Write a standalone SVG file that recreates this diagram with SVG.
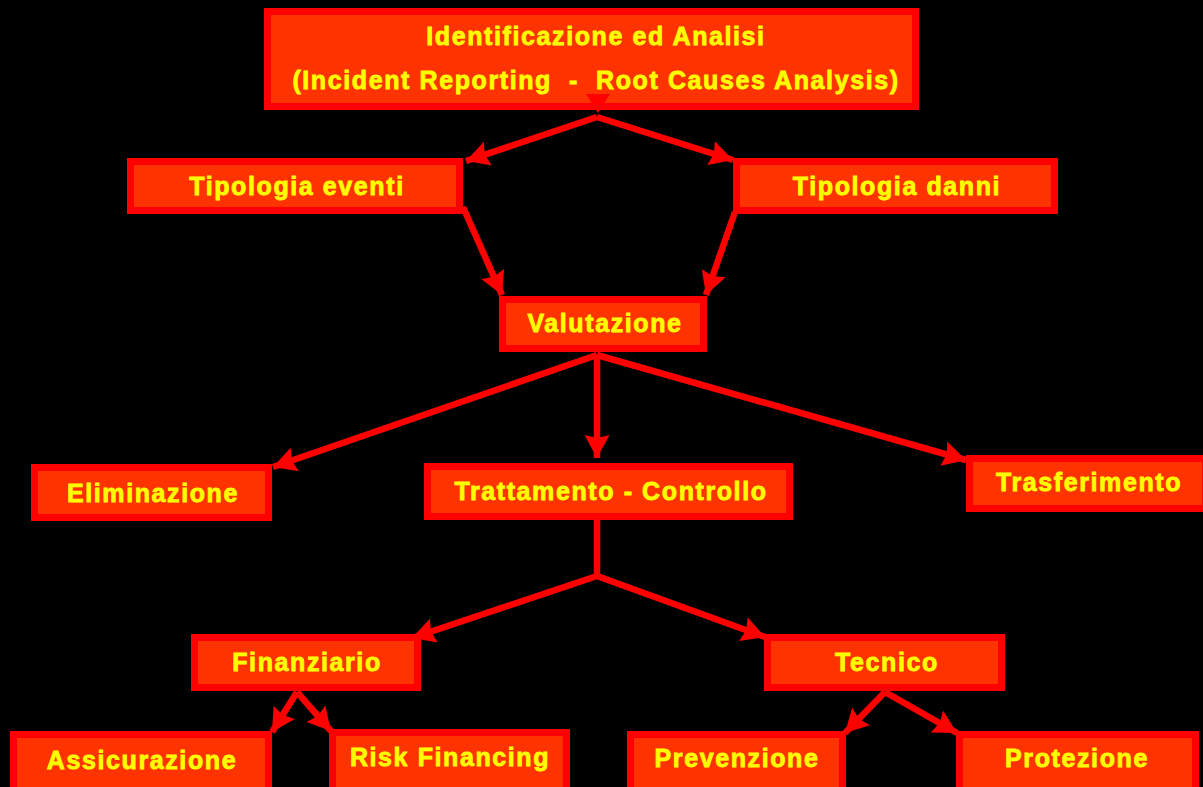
<svg xmlns="http://www.w3.org/2000/svg" width="1203" height="787" viewBox="0 0 1203 787">
<defs>
<marker id="ah" markerUnits="userSpaceOnUse" markerWidth="26" markerHeight="26" refX="23" refY="12.5" orient="auto">
<path d="M0,0 L23,12.5 L0,25 L3,12.5 Z" fill="#FF0000"/>
</marker>
<style>
.box{fill:#FF3300;stroke:#FF0000;stroke-width:7}
.t{font-family:"Liberation Sans",Arial,sans-serif;font-weight:bold;font-size:25px;letter-spacing:1.6px;fill:#FFFF00;stroke:#FFFF00;stroke-width:0.8px;text-anchor:middle;white-space:pre}
.c{stroke:#FF0000;stroke-width:6.5;fill:none}
.a{marker-end:url(#ah)}
</style>
</defs>
<rect width="1203" height="787" fill="#000"/>
<g id="n-identificazione"><rect class="box" x="267.5" y="11.5" width="648" height="95"/><text class="t" x="596" y="45">Identificazione ed Analisi</text><text class="t" x="596" y="89" xml:space="preserve">(Incident Reporting  -  Root Causes Analysis)</text></g>
<g id="n-tipologia-eventi"><rect class="box" x="130.5" y="161.5" width="329" height="49"/><text class="t" x="297" y="195">Tipologia eventi</text></g>
<g id="n-tipologia-danni"><rect class="box" x="736.5" y="161.5" width="318" height="49"/><text class="t" x="897" y="195">Tipologia danni</text></g>
<g id="n-valutazione"><rect class="box" x="502.5" y="299.5" width="201" height="49"/><text class="t" x="605" y="332">Valutazione</text></g>
<g id="n-eliminazione"><rect class="box" x="34.5" y="467.5" width="234" height="50"/><text class="t" x="153" y="502">Eliminazione</text></g>
<g id="n-trattamento"><rect class="box" x="427.5" y="466.5" width="362" height="50"/><text class="t" x="611" y="500">Trattamento - Controllo</text></g>
<g id="n-trasferimento"><rect class="box" x="969.5" y="458.5" width="236" height="50"/><text class="t" x="1089" y="491">Trasferimento</text></g>
<g id="n-finanziario"><rect class="box" x="194.5" y="637.5" width="223" height="50"/><text class="t" x="307" y="671">Finanziario</text></g>
<g id="n-tecnico"><rect class="box" x="767.5" y="637.5" width="234" height="50"/><text class="t" x="887" y="671">Tecnico</text></g>
<g id="n-assicurazione"><rect class="box" x="13.5" y="734.5" width="255" height="60"/><text class="t" x="142" y="769">Assicurazione</text></g>
<g id="n-risk-financing"><rect class="box" x="332.5" y="732.5" width="234" height="60"/><text class="t" x="450" y="766">Risk Financing</text></g>
<g id="n-prevenzione"><rect class="box" x="630.5" y="734.5" width="212" height="60"/><text class="t" x="737" y="767">Prevenzione</text></g>
<g id="n-protezione"><rect class="box" x="959.5" y="734.5" width="236" height="60"/><text class="t" x="1077" y="767">Protezione</text></g>
<g id="connectors">
<path d="M586,94 L610,94 L598,113 Z" fill="#FF0000"/>
<line class="c a" x1="597" y1="117" x2="466" y2="161"/>
<line class="c a" x1="597" y1="117" x2="733" y2="160"/>
<line class="c a" x1="463" y1="207" x2="502" y2="295"/>
<line class="c a" x1="735" y1="212" x2="706" y2="295"/>
<line class="c a" x1="597" y1="355" x2="273" y2="467"/>
<line class="c a" x1="597" y1="355" x2="597" y2="458"/>
<line class="c a" x1="597" y1="355" x2="966" y2="460"/>
<line class="c" x1="597" y1="520" x2="597" y2="576"/>
<line class="c a" x1="597" y1="576" x2="412" y2="638"/>
<line class="c a" x1="597" y1="576" x2="765" y2="637"/>
<line class="c a" x1="297" y1="692" x2="272" y2="732"/>
<line class="c a" x1="297" y1="692" x2="331" y2="731"/>
<line class="c a" x1="885" y1="692" x2="845" y2="733"/>
<line class="c a" x1="885" y1="692" x2="957" y2="733"/>
</g>
</svg>
